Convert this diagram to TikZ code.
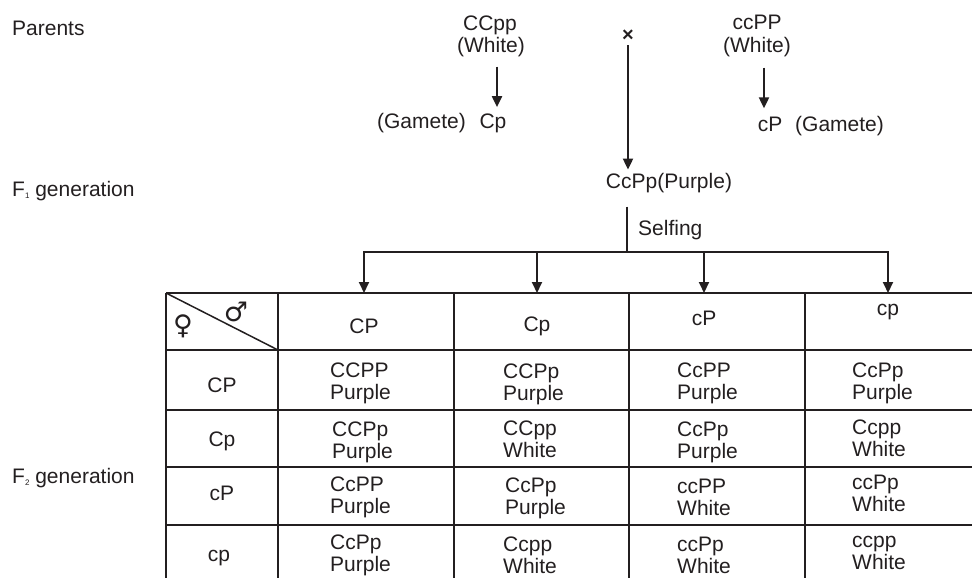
\documentclass[tikz,border=0pt]{standalone}
\usepackage{fontspec}
\setmainfont{Liberation Sans}
\newfontfamily\symfont{DejaVu Sans}
\usepackage{tikz}
\usetikzlibrary{arrows.meta, positioning, calc}
\definecolor{ink}{HTML}{231F20}

\begin{document}
\begin{tikzpicture}[
  x=1pt, y=-1pt,
  >={Triangle[length=11pt, width=10pt]},
  lbl/.style={font=\fontsize{21}{22}\selectfont, text=ink, inner sep=0pt, anchor=base},
  cell/.style={lbl, align=left, anchor=west},
  sym/.style={font=\symfont\bfseries\fontsize{27}{27}\selectfont, text=ink, inner sep=0pt},
  grid/.style={draw=ink, line width=2pt},
  arr/.style={->, draw=ink, line width=2pt},
]

\useasboundingbox (0,0) rectangle (972,578);

% --- Side labels ---
\node[lbl, anchor=base west] (par) at (12,36) {Parents};
\node[lbl, anchor=base west] (gen1) at (12,196) {F\raisebox{-2pt}{\fontsize{8}{8}\selectfont 1} generation};
\node[lbl, anchor=base west] (gen2) at (12,483) {F\raisebox{-2pt}{\fontsize{8}{8}\selectfont 2} generation};

% --- Parents ---
\node[lbl] (pa) at (490,31) {CCpp};
\node[lbl] (pa-w) at (491,53) {(White)};
\node[lbl] (pb) at (757,30) {ccPP};
\node[lbl] (pb-w) at (757,53) {(White)};
\node[font=\bfseries\fontsize{20}{20}\selectfont, text=ink, inner sep=0pt] (cross) at (628,36) {×};

% --- Gametes ---
\node[lbl] (ga) at (493,128) {Cp};
\node[lbl, anchor=base east] (ga-l) at (466,128) {(Gamete)};
\node[lbl] (gb) at (770,131) {cP};
\node[lbl, anchor=base west] (gb-l) at (795,131) {(Gamete)};

\draw[arr] ([xshift=6pt, yshift=-9pt]pa-w.south) -- ([xshift=4pt, yshift=6pt]ga.north);
\draw[arr] ([xshift=7pt, yshift=-10pt]pb-w.south) -- ([xshift=-6pt, yshift=8pt]gb.north);

% --- F1 ---
\node[lbl] (f1) at (669,188) {CcPp(Purple)};
\draw[arr] ([yshift=-3pt]cross.south) -- ([yshift=3pt]f1.north -| cross);

% --- Selfing ---
\coordinate (split) at (627,252);
\coordinate (top) at (166,293);
\node[lbl, anchor=base west] (self) at (638,235) {Selfing};

% --- Header gametes ---
\node[lbl] (h1) at (364,333) {CP};
\node[lbl] (h2) at (537,331) {Cp};
\node[lbl] (h3) at (704,325) {cP};
\node[lbl] (h4) at (888,315) {cp};

\draw[grid] ([yshift=-14pt]f1.south -| split) -- (split);
\draw[grid, line cap=rect] (split -| h1) -- (split -| h4);
\foreach \h in {h1,h2,h3,h4}
  \draw[arr] (split -| \h) -- (\h |- top);

% --- Punnett grid ---
\foreach \y in {293,350,410,467,525}
  \draw[grid] (166,\y) -- (972,\y);
\foreach \x in {166,278,454,629,805}
  \draw[grid] (\x,293) -- (\x,578);
\draw[ink, line width=1.5pt] (top) -- (278,350);

\node[sym] (fem) at (183,326) {♀};
\node[sym] (male) at (236,312) {♂};

% --- Row gametes ---
\node[lbl] (r1) at (222,392) {CP};
\node[lbl] (r2) at (222,446) {Cp};
\node[lbl] (r3) at (222,500) {cP};
\node[lbl] (r4) at (219,561) {cp};

% --- Offspring ---
\node[cell] (c11) at (330,383) {CCPP\\Purple};
\node[cell] (c12) at (503,384) {CCPp\\Purple};
\node[cell] (c13) at (677,383) {CcPP\\Purple};
\node[cell] (c14) at (852,383) {CcPp\\Purple};

\node[cell] (c21) at (332,442) {CCPp\\Purple};
\node[cell] (c22) at (503,439) {CCpp\\White};
\node[cell] (c23) at (677,442) {CcPp\\Purple};
\node[cell] (c24) at (852,438) {Ccpp\\White};

\node[cell] (c31) at (330,497) {CcPP\\Purple};
\node[cell] (c32) at (505,498) {CcPp\\Purple};
\node[cell] (c33) at (677,497) {ccPP\\White};
\node[cell] (c34) at (852,493) {ccPp\\White};

\node[cell] (c41) at (330,555) {CcPp\\Purple};
\node[cell] (c42) at (503,555) {Ccpp\\White};
\node[cell] (c43) at (677,555) {ccPp\\White};
\node[cell] (c44) at (852,553) {ccpp\\White};

\end{tikzpicture}
\end{document}
